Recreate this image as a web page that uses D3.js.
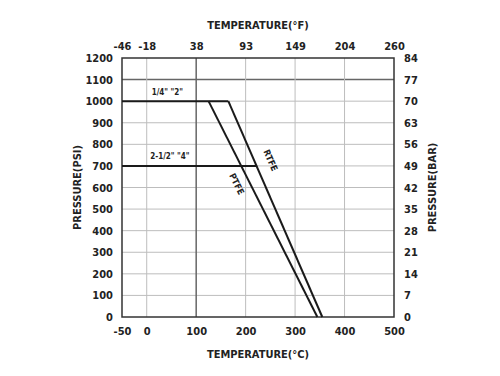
<!DOCTYPE html>
<html lang="en">
<head>
<meta charset="UTF-8">
<title>Pressure / Temperature</title>
<style>
    body { margin: 0; background: #fff; }
    text {
        font-family: 'Liberation Sans Narrow', 'DejaVu Sans Condensed', sans-serif;
        font-weight: bold;
        fill: #222;
    }
    .axis path, .axis line { display: none; }
    .axis text { font-size: 11px; }
    .grid { stroke: #bdbdbd; stroke-width: 1px; }
    .grid.dark { stroke: #666; stroke-width: 1.5px; }
    .series { fill: none; stroke: #1a1a1a; stroke-width: 2px; }
</style>
</head>
<body>
<script src="https://cdnjs.cloudflare.com/ajax/libs/d3/7.8.5/d3.min.js"></script>
<script>

    const width = 500;
    const height = 376;
    const margin = {top: 58, right: 106, bottom: 59, left: 122};

    // bottom axis (deg C) and top axis labels at the same positions
    const tempTicks = [-50, 0, 100, 200, 300, 400, 500];
    const tempTopLabels = ['-46', '-18', '38', '93', '149', '204', '260'];
    const psiTicks = [0, 100, 200, 300, 400, 500, 600, 700, 800, 900, 1000, 1100, 1200];
    const barTicks = [0, 7, 14, 21, 28, 35, 42, 49, 56, 63, 70, 77, 84];
    const vGrid = [0, 100, 200, 300, 400];
    const darkV = [100];
    const darkH = [1100];

    // rating lines [temp C, psi]
    const smallSizes = [[-50, 1000], [165, 1000]];
    const largeSizes = [[-50, 700], [222, 700]];
    const ptfe = [[125, 1000], [345, 0]];
    const rtfe = [[165, 1000], [355, 0]];

    const svg = d3.select('body').append('svg')
        .attr('width', width)
        .attr('height', height);

    svg.append('rect').attr('width', width).attr('height', height).style('fill', '#fff');

    const innerW = width - margin.left - margin.right;
    const innerH = height - margin.top - margin.bottom;

    const x = d3.scaleLinear().domain([-50, 500]).range([0, innerW]);
    const y = d3.scaleLinear().domain([0, 1200]).range([innerH, 0]);
    const yBar = d3.scaleLinear().domain([0, 84]).range([innerH, 0]);

    const plain = d => String(d);

    const g = svg.append('g')
        .attr('transform', 'translate(' + margin.left + ',' + margin.top + ')');

    // grid
    g.selectAll('.hgrid').data(psiTicks.slice(1, -1)).enter().append('line')
        .attr('class', d => 'grid' + (darkH.includes(d) ? ' dark' : ''))
        .attr('x1', 0).attr('x2', innerW)
        .attr('y1', d => y(d)).attr('y2', d => y(d));

    g.selectAll('.vgrid').data(vGrid).enter().append('line')
        .attr('class', d => 'grid' + (darkV.includes(d) ? ' dark' : ''))
        .attr('x1', d => x(d)).attr('x2', d => x(d))
        .attr('y1', 0).attr('y2', innerH);

    // frame
    g.append('rect')
        .attr('width', innerW).attr('height', innerH)
        .style('fill', 'none').style('stroke', '#333').style('stroke-width', '1.5px');

    // axes
    g.append('g').attr('class', 'axis')
        .attr('transform', 'translate(0,' + innerH + ')')
        .call(d3.axisBottom(x).tickValues(tempTicks).tickSize(0).tickPadding(10).tickFormat(plain));

    g.append('g').attr('class', 'axis')
        .call(d3.axisTop(x).tickValues(tempTicks).tickSize(0).tickPadding(8)
            .tickFormat((d, i) => tempTopLabels[i]));

    g.append('g').attr('class', 'axis')
        .call(d3.axisLeft(y).tickValues(psiTicks).tickSize(0).tickPadding(9).tickFormat(plain));

    g.append('g').attr('class', 'axis')
        .attr('transform', 'translate(' + innerW + ',0)')
        .call(d3.axisRight(yBar).tickValues(barTicks).tickSize(0).tickPadding(10).tickFormat(plain));

    // series
    const line = d3.line().x(d => x(d[0])).y(d => y(d[1]));
    [smallSizes, largeSizes, ptfe, rtfe].forEach(function(s) {
        g.append('path').datum(s).attr('class', 'series').attr('d', line);
    });

    // labels on the chart
    g.append('text')
        .attr('x', x(10)).attr('y', y(1000) - 6)
        .style('font-size', '8px')
        .text('1/4" "2"');

    g.append('text')
        .attr('x', x(7)).attr('y', y(700) - 7)
        .style('font-size', '8px')
        .text('2-1/2" "4"');

    function lineLabel(s, t, dx, label) {
        let p = [s[0][0] + (s[1][0] - s[0][0]) * t, s[0][1] + (s[1][1] - s[0][1]) * t];
        let ang = Math.atan2(y(s[1][1]) - y(s[0][1]), x(s[1][0]) - x(s[0][0])) * 180 / Math.PI;
        g.append('text')
            .attr('transform', 'translate(' + (x(p[0]) + dx) + ',' + y(p[1]) + ') rotate(' + ang + ')')
            .attr('text-anchor', 'middle')
            .style('font-size', '9px')
            .text(label);
    }
    lineLabel(rtfe, 0.28, 13, 'RTFE');
    lineLabel(ptfe, 0.39, -17, 'PTFE');

    // axis titles
    svg.append('text')
        .attr('x', margin.left + innerW / 2).attr('y', 29)
        .attr('text-anchor', 'middle')
        .style('font-size', '11px')
        .text('TEMPERATURE(°F)');

    svg.append('text')
        .attr('x', margin.left + innerW / 2).attr('y', 358)
        .attr('text-anchor', 'middle')
        .style('font-size', '11px')
        .text('TEMPERATURE(°C)');

    svg.append('text')
        .attr('transform', 'translate(81,' + (margin.top + innerH / 2) + ') rotate(-90)')
        .attr('text-anchor', 'middle')
        .style('font-size', '11px')
        .text('PRESSURE(PSI)');

    svg.append('text')
        .attr('transform', 'translate(436,' + (margin.top + innerH / 2) + ') rotate(-90)')
        .attr('text-anchor', 'middle')
        .style('font-size', '11px')
        .text('PRESSURE(BAR)');

</script>
</body>
</html>
